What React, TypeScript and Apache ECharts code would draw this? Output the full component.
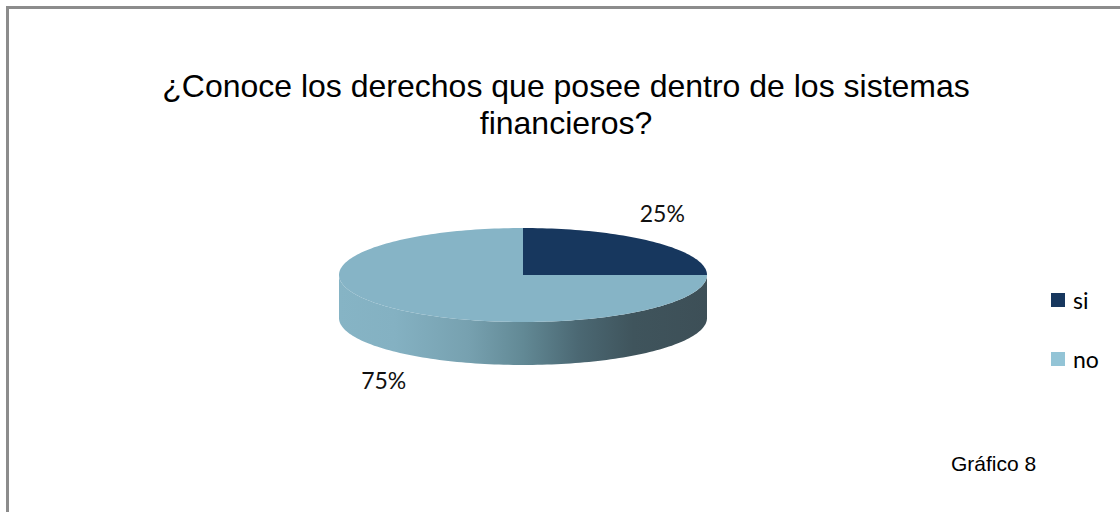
import React, { useEffect, useRef } from "react";
import * as echarts from "echarts";

const titleLines = ["¿Conoce los derechos que posee dentro de los sistemas", "financieros?"];
const categories = ["si", "no"];
const values = [25, 75];
const topColors = ["#17375e", "#86b4c6"];
const legendColors = ["#17375e", "#93c4d6"];
const footnote = "Gráfico 8";

export default function App() {
  const ref = useRef<HTMLDivElement>(null);

  useEffect(() => {
    if (!ref.current) return;
    const chart = echarts.init(ref.current, null, { renderer: "svg" });

    const total = values.reduce((a, b) => a + b, 0);
    const starts: number[] = [];
    let acc = 0;
    values.forEach((v) => {
      starts.push(acc);
      acc += v;
    });

    const CX = 523;
    const CY = 275;
    const RX = 184;
    const RY = 47;
    const DEPTH = 43;
    const LABEL_DX = 13;
    const LABEL_DY = 41;

    const pt = (t: number, dy = 0) => [CX + RX * Math.sin(t), CY - RY * Math.cos(t) + dy];
    const arc = (a: number, b: number, dy = 0) => {
      const n = Math.max(2, Math.ceil(((b - a) / (2 * Math.PI)) * 240));
      const out: number[][] = [];
      for (let i = 0; i <= n; i++) out.push(pt(a + ((b - a) * i) / n, dy));
      return out;
    };

    const sideGradient = new echarts.graphic.LinearGradient(
      CX - RX,
      0,
      CX + RX,
      0,
      [
        { offset: 0, color: "#86b4c5" },
        { offset: 0.15, color: "#84b1c2" },
        { offset: 0.35, color: "#77a1b0" },
        { offset: 0.5, color: "#628995" },
        { offset: 0.65, color: "#4b6873" },
        { offset: 0.8, color: "#3f545c" },
        { offset: 1, color: "#3d4f57" },
      ],
      true
    );

    const series = categories.map((name, k) => ({
      type: "custom",
      name,
      coordinateSystem: "none",
      data: [values[k]],
      itemStyle: { color: topColors[k] },
      renderItem: (_params: any, api: any) => {
        const v = api.value(0) as number;
        const a0 = (starts[k] / total) * Math.PI * 2;
        const a1 = ((starts[k] + v) / total) * Math.PI * 2;
        const children: any[] = [];
        const s = Math.max(a0, Math.PI / 2);
        const e = Math.min(a1, (Math.PI * 3) / 2);
        if (s < e) {
          const pts = arc(s, e).concat(arc(s, e, DEPTH).reverse());
          children.push({
            type: "polygon",
            z2: 1,
            shape: { points: pts },
            style: { fill: sideGradient, stroke: null },
          });
        }
        children.push({
          type: "polygon",
          z2: 10,
          shape: { points: [[CX, CY]].concat(arc(a0, a1)) },
          style: { fill: topColors[k], stroke: null },
        });
        const mid = (a0 + a1) / 2;
        const lx = CX + (RX + LABEL_DX) * Math.sin(mid);
        const cosm = Math.cos(mid);
        const ly = CY - (RY + LABEL_DY) * cosm + (cosm < 0 ? DEPTH : 0);
        children.push({
          type: "text",
          z2: 20,
          x: lx,
          y: ly,
          style: {
            text: Math.round((v / total) * 100) + "%",
            fontFamily: "Lato",
            fontSize: 23,
            fill: "#111",
            align: "center",
            verticalAlign: "middle",
          },
        });
        return { type: "group", children };
      },
    }));

    chart.setOption({
      animation: false,
      backgroundColor: "#ffffff",
      title: {
        text: titleLines.join("\n"),
        left: 561,
        top: 62,
        textAlign: "center",
        textStyle: {
          fontFamily: "Liberation Sans",
          fontSize: 32,
          fontWeight: "normal",
          lineHeight: 37,
          color: "#000",
        },
      },
      legend: {
        orient: "vertical",
        left: 1046,
        top: 283,
        icon: "rect",
        itemWidth: 14,
        itemHeight: 14,
        itemGap: 35,
        textStyle: { fontFamily: "Lato", fontSize: 23, lineHeight: 24, color: "#000", padding: [0, 0, 0, 3] },
        data: categories.map((c, i) => ({ name: c, itemStyle: { color: legendColors[i] } })),
      },
      graphic: [
        {
          type: "rect",
          shape: { x: 7.5, y: 7.5, width: 1300, height: 700 },
          style: { fill: "none", stroke: "#8c8c8c", lineWidth: 3 },
          silent: true,
        },
        {
          type: "text",
          x: 951,
          y: 463,
          style: {
            text: footnote,
            fontFamily: "Liberation Sans",
            fontSize: 21,
            fill: "#000",
            align: "left",
            verticalAlign: "middle",
          },
        },
      ],
      series,
    });

    return () => chart.dispose();
  }, []);

  return (
    <div
      ref={ref}
      style={{ position: "fixed", left: 0, top: 0, width: 1120, height: 512, background: "#fff" }}
    />
  );
}
